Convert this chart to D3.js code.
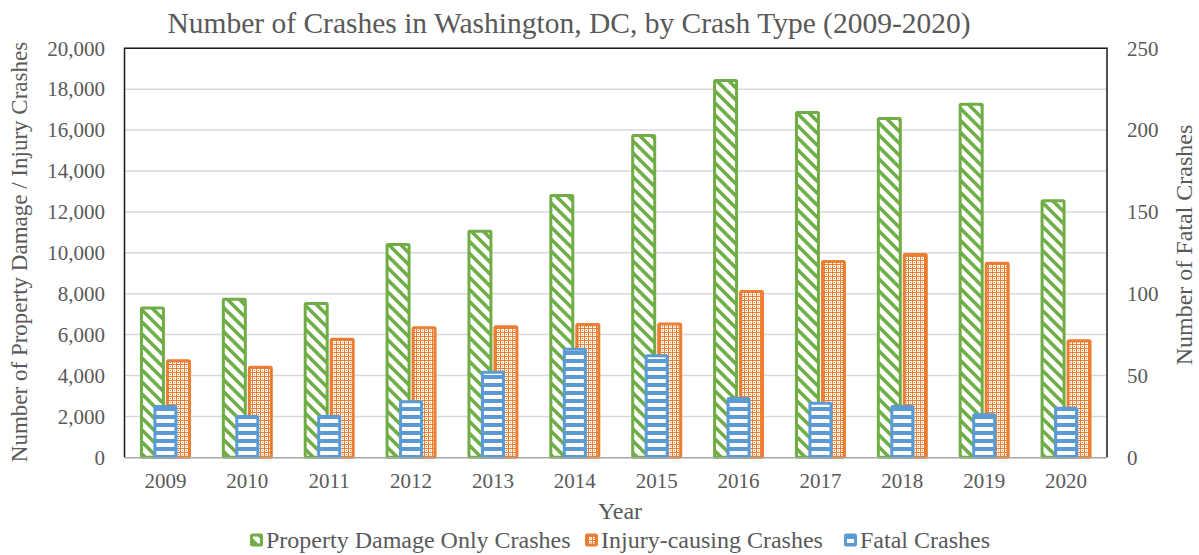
<!DOCTYPE html>
<html>
<head>
<meta charset="utf-8">
<script src="https://cdn.jsdelivr.net/npm/d3@7"></script>
<style>
  html, body { margin: 0; padding: 0; background: #fff; }
  svg { display: block; }
  text { font-family: "Liberation Serif", "Times New Roman", serif; fill: #595959; }
</style>
</head>
<body>
<svg id="chart" width="1199" height="555"></svg>
<script>
// ---- data ----
const years = ["2009","2010","2011","2012","2013","2014","2015","2016","2017","2018","2019","2020"];
const propertyDamage = [7300, 7730, 7520, 10400, 11050, 12800, 15740, 18430, 16860, 16570, 17270, 12550];
const injuryCrashes  = [4720, 4400, 5770, 6330, 6380, 6490, 6520, 8110, 9570, 9920, 9490, 5700];
const fatalCrashes   = [31, 25, 25, 34, 52, 66, 62, 36, 33, 31, 26, 30];
const leftTicks  = [0, 2000, 4000, 6000, 8000, 10000, 12000, 14000, 16000, 18000, 20000];
const rightTicks = [0, 50, 100, 150, 200, 250];
const seriesNames = ["Property Damage Only Crashes", "Injury-causing Crashes", "Fatal Crashes"];

const GREEN = "#70AD47", ORANGE = "#ED7D31", BLUE = "#5B9BD5";
const SERIF = "'Liberation Serif', 'Times New Roman', serif";

const svg = d3.select("#chart");
const pLeft = 124.5, pRight = 1107, pTop = 48.3, pBottom = 457.3;

// ---- patterns ----
const defs = svg.append("defs");
const pg = defs.append("pattern").attr("id","pGreen").attr("patternUnits","userSpaceOnUse")
  .attr("width",12).attr("height",12);
pg.append("rect").attr("width",12).attr("height",12).attr("fill","#fff");
pg.append("path").attr("d","M0,0 L12,12 M-6,6 L6,18 M6,-6 L18,6")
  .attr("stroke",GREEN).attr("stroke-width",3.6);

const po = defs.append("pattern").attr("id","pOrange").attr("patternUnits","userSpaceOnUse")
  .attr("width",4).attr("height",4);
po.append("rect").attr("width",4).attr("height",4).attr("fill",ORANGE);
po.append("rect").attr("x",1).attr("y",1).attr("width",3).attr("height",3).attr("fill","#fff");
po.append("rect").attr("x",2).attr("y",2).attr("width",1).attr("height",1).attr("fill",ORANGE);

const pb = defs.append("pattern").attr("id","pBlue").attr("patternUnits","userSpaceOnUse")
  .attr("width",8).attr("height",8).attr("y",1);
pb.append("rect").attr("width",8).attr("height",8).attr("fill",BLUE);
pb.append("rect").attr("y",2).attr("width",8).attr("height",4).attr("fill","#fff");

// ---- scales ----
const x = d3.scaleBand().domain(years).range([pLeft, pRight]).paddingInner(0).paddingOuter(0);
const xs = d3.scaleBand().domain(["pdo","inj"]).range([0, x.bandwidth()]).paddingInner(0).paddingOuter(0.575);
const yL = d3.scaleLinear().domain([0, 20000]).range([pBottom, pTop]);
const yR = d3.scaleLinear().domain([0, 250]).range([pBottom, pTop]);

// ---- gridlines ----
svg.append("g").selectAll("line").data(leftTicks.slice(1)).join("line")
  .attr("x1", pLeft).attr("x2", pRight)
  .attr("y1", d => yL(d)).attr("y2", d => yL(d))
  .attr("stroke", "#d9d9d9").attr("stroke-width", 1.5);

// ---- bars ----
const sw = 3;
const gBars = svg.append("g");
gBars.selectAll("rect.pdo").data(years).join("rect").attr("class","pdo")
  .attr("x", d => x(d) + xs("pdo") + 2)
  .attr("width", xs.bandwidth() - 4)
  .attr("y", (d,i) => yL(propertyDamage[i]))
  .attr("height", (d,i) => yL(0) - yL(propertyDamage[i]))
  .attr("fill","url(#pGreen)").attr("stroke",GREEN).attr("stroke-width",sw).attr("rx",1);
gBars.selectAll("rect.inj").data(years).join("rect").attr("class","inj")
  .attr("x", d => x(d) + xs("inj") + 2)
  .attr("width", xs.bandwidth() - 4)
  .attr("y", (d,i) => yL(injuryCrashes[i]))
  .attr("height", (d,i) => yL(0) - yL(injuryCrashes[i]))
  .attr("fill","url(#pOrange)").attr("stroke",ORANGE).attr("stroke-width",sw).attr("rx",1);
const fw = 21;
gBars.selectAll("rect.fat").data(years).join("rect").attr("class","fat")
  .attr("x", d => x(d) + x.bandwidth()/2 - fw/2)
  .attr("width", fw)
  .attr("y", (d,i) => yR(fatalCrashes[i]))
  .attr("height", (d,i) => yR(0) - yR(fatalCrashes[i]))
  .attr("fill","url(#pBlue)").attr("stroke",BLUE).attr("stroke-width",sw).attr("rx",1);

// ---- plot frame ----
svg.append("path").attr("d", `M${pLeft},${pBottom} L${pLeft},${pTop} L${pRight},${pTop} L${pRight},${pBottom}`)
  .attr("fill","none").attr("stroke","#1a1a1a").attr("stroke-width",1.5);
svg.append("line").attr("x1",pLeft).attr("x2",pRight).attr("y1",pBottom+0.5).attr("y2",pBottom+0.5)
  .attr("stroke","#a6a6a6").attr("stroke-width",1.5);

// ---- axes ----
const fontTick = "21px";
const axL = svg.append("g").attr("transform",`translate(${pLeft},0)`)
  .call(d3.axisLeft(yL).tickValues(leftTicks).tickFormat(d3.format(",")).tickSize(0).tickPadding(19.5));
const axR = svg.append("g").attr("transform",`translate(${pRight},0)`)
  .call(d3.axisRight(yR).tickValues(rightTicks).tickSize(0).tickPadding(20));
const axB = svg.append("g").attr("transform",`translate(0,${pBottom})`)
  .call(d3.axisBottom(x).tickSize(0).tickPadding(16));
[axL, axR, axB].forEach(a => {
  a.select(".domain").remove();
  a.attr("font-family", null).attr("font-size", null);
  a.selectAll("text").style("font-family", SERIF)
    .style("font-size", fontTick).style("fill","#595959");
});

// ---- titles ----
svg.append("text").attr("x", 569).attr("y", 33).attr("text-anchor","middle")
  .style("font-family", SERIF).style("font-size","29.5px")
  .text("Number of Crashes in Washington, DC, by Crash Type (2009-2020)");
svg.append("text").attr("transform","translate(27,252) rotate(-90)").attr("text-anchor","middle")
  .style("font-family", SERIF).style("font-size","23px").text("Number of Property Damage / Injury Crashes");
svg.append("text").attr("transform","translate(1192,245) rotate(-90)").attr("text-anchor","middle")
  .style("font-family", SERIF).style("font-size","24px").text("Number of Fatal Crashes");
svg.append("text").attr("x", 620).attr("y", 519).attr("text-anchor","middle")
  .style("font-family", SERIF).style("font-size","24px").text("Year");

// ---- legend ----
const legendFills = ["url(#pGreen)","url(#pOrange)","url(#pBlue)"];
const legendStrokes = [GREEN, ORANGE, BLUE];
const legendX = [250, 585, 844];
const lg = svg.append("g");
seriesNames.forEach((n, i) => {
  lg.append("rect").attr("x", legendX[i] + 1.5).attr("y", 535).attr("width", 10).attr("height", 10)
    .attr("fill", legendFills[i]).attr("stroke", legendStrokes[i]).attr("stroke-width", 3).attr("rx",1);
  lg.append("text").attr("x", legendX[i] + 16).attr("y", 548)
    .style("font-family", SERIF).style("font-size","24px").text(n);
});
</script>
</body>
</html>
